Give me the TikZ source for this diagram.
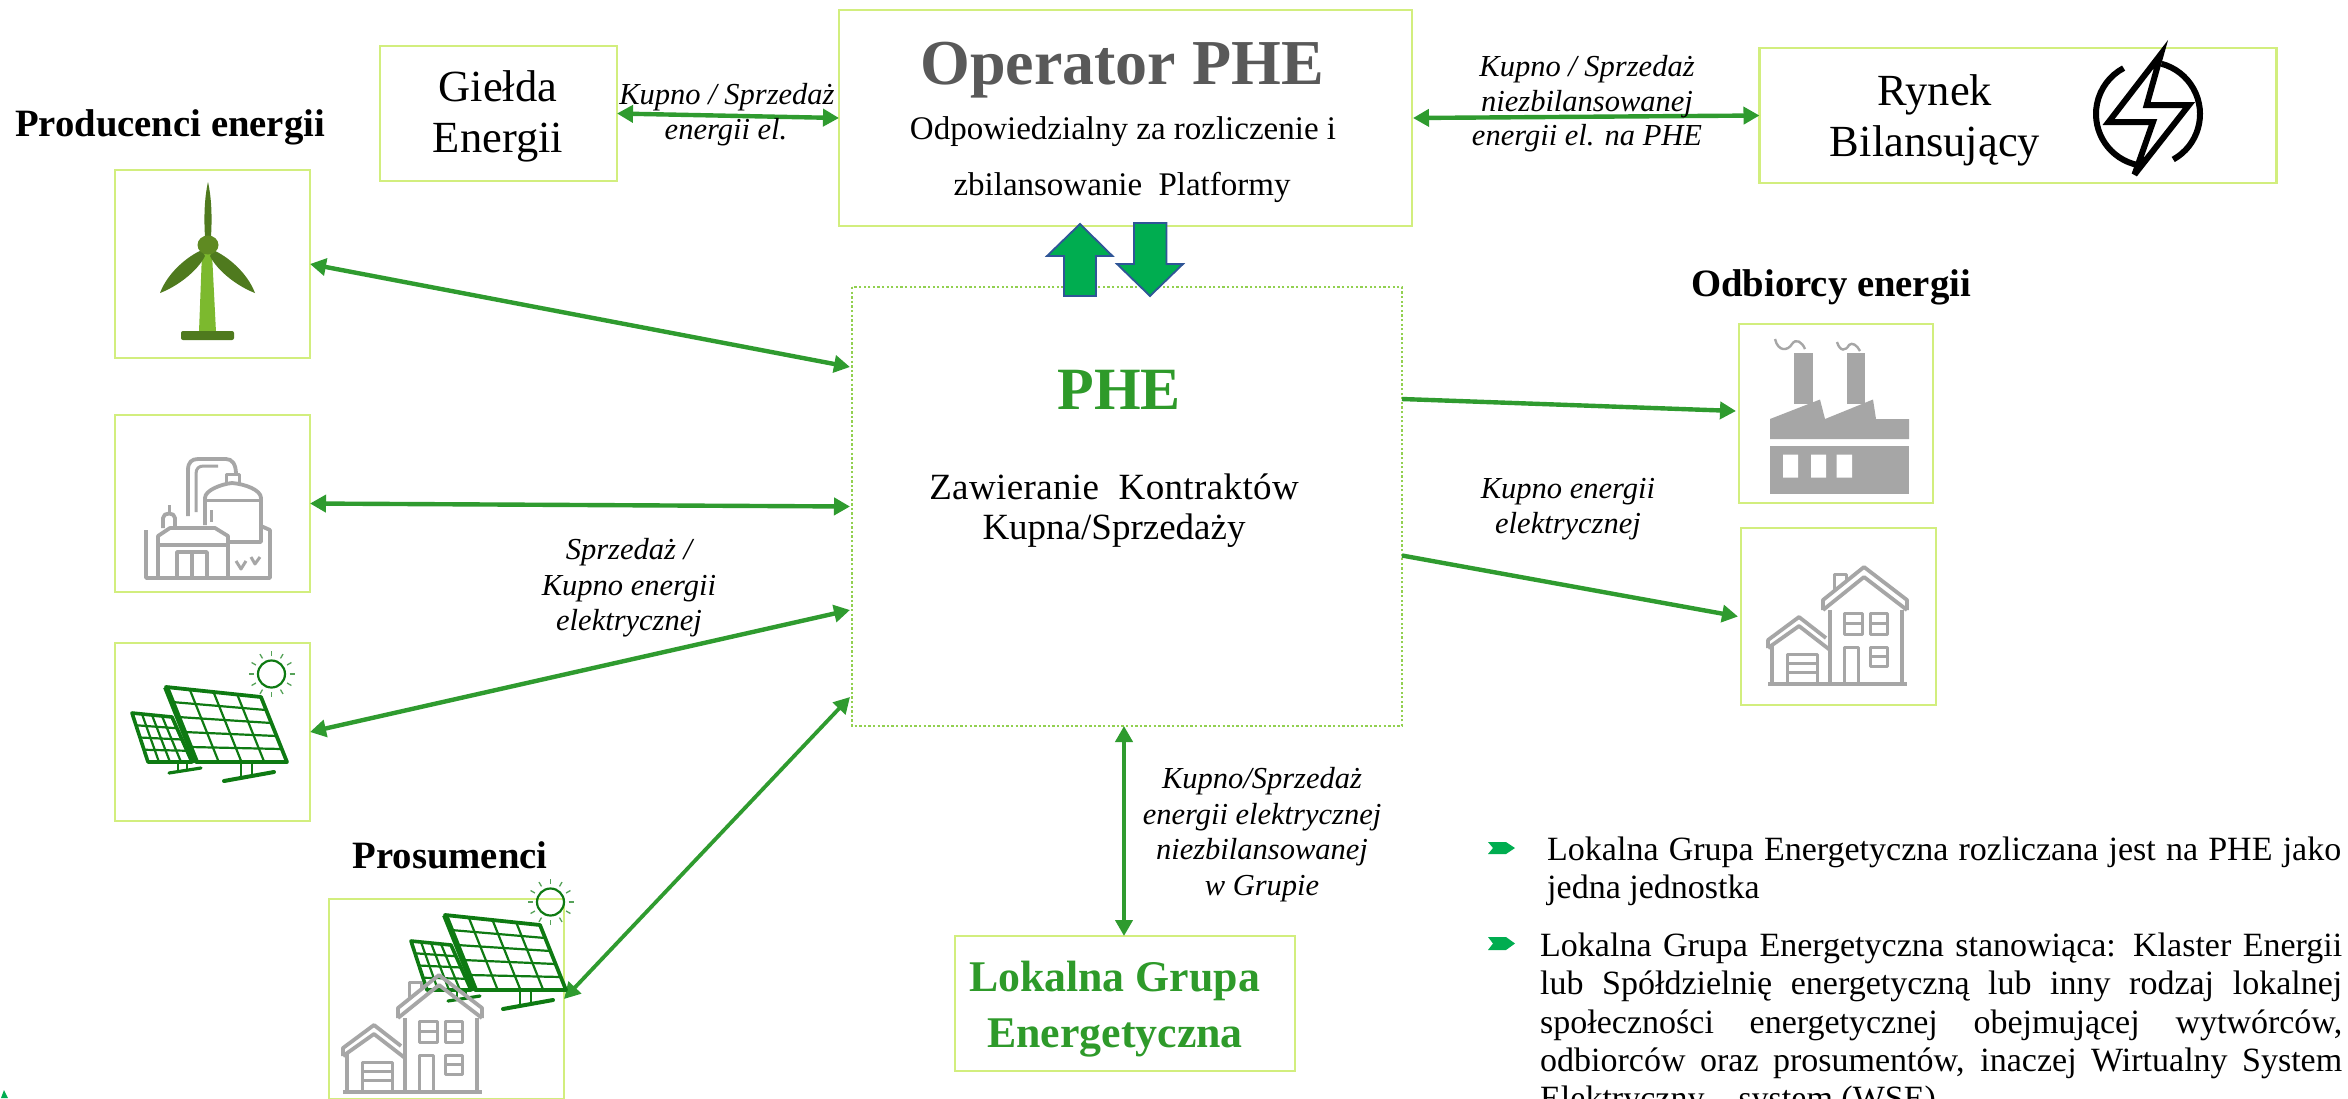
\documentclass[tikz,border=0pt]{standalone}
\usepackage{fontspec}
\setmainfont{Liberation Serif}
\definecolor{boxline}{HTML}{D2EE7E}
\definecolor{dotline}{HTML}{92D050}
\definecolor{flow}{HTML}{2F9B2F}
\definecolor{phegreen}{HTML}{2E9A2A}
\definecolor{opgray}{HTML}{595959}
\definecolor{icongray}{HTML}{A6A6A6}
\definecolor{sgreen}{HTML}{0E7A12}
\definecolor{bluebd}{HTML}{2F5597}
\definecolor{fillgreen}{HTML}{00AD50}
\definecolor{tdark}{HTML}{4F7A1E}
\definecolor{tlight}{HTML}{7CB92E}
\definecolor{thub}{HTML}{5F8A22}
\usetikzlibrary{arrows.meta,calc}
\newcommand{\fs}[1]{\fontsize{#1}{#1}\selectfont}
\newcommand{\jl}[1]{\hbox to 802pt{#1}}
\tikzset{
  x=1pt,y=-1pt,
  lbox/.style={draw=boxline,line width=2.8pt,fill=white,inner sep=0pt,outer sep=0pt},
  flowdbl/.style={draw=flow,line width=4.4pt,{Triangle[length=16pt,width=17pt]}-{Triangle[length=16pt,width=17pt]}},
  flowone/.style={draw=flow,line width=4.4pt,-{Triangle[length=16pt,width=17pt]}},
  lab/.style={inner sep=0pt,anchor=base,align=center,font=\fs{30.5}\itshape},
  ttl/.style={inner sep=0pt,anchor=base,font=\fs{38.7}\bfseries},
  txt/.style={inner sep=0pt,anchor=base,font=\fs{44.5}},
  sub/.style={inner sep=0pt,anchor=base,font=\fs{33}},
  para/.style={inner sep=0pt,anchor=base west,font=\fs{34}},
  lgetxt/.style={inner sep=0pt,anchor=base,font=\fs{43.8}\bfseries,text=phegreen},
  thick arrow/.style={draw=bluebd,line width=1.8pt,fill=fillgreen,line join=miter},
  gl/.style={draw=icongray,line width=3.8pt,line join=round,fill=none},
  gl2/.style={draw=icongray,line width=3pt,line join=round,fill=none},
  sl/.style={draw=sgreen,line width=2.2pt},
  solarpic/.pic={
    \draw[sgreen,line width=3.6pt,line join=round,fill=white] (132,713)--(172,717)--(192,762)--(148,762)--cycle;
    \foreach \t in {.25,.5,.75}{\draw[sl] ($(132,713)!\t!(148,762)$)--($(172,717)!\t!(192,762)$);
       \draw[sl] ($(132,713)!\t!(172,717)$)--($(148,762)!\t!(192,762)$);}
    \draw[sgreen,line width=3.8pt,line join=round,fill=white] (166,687)--(261,697)--(287,762)--(196,762)--cycle;
    \draw[sgreen,line width=6pt] (166,687)--(196,762);
    \foreach \t in {.2,.4,.6,.8}{\draw[sl] ($(166,687)!\t!(196,762)$)--($(261,697)!\t!(287,762)$);}
    \foreach \t in {.25,.5,.75}{\draw[sl] ($(166,687)!\t!(261,697)$)--($(196,762)!\t!(287,762)$);}
    \draw[sgreen,line width=2.2pt] (241,763)--(241,777) (252,763)--(252,775);
    \draw[sgreen,line width=4pt,line cap=round] (224,781)--(274,772);
    \draw[sgreen,line width=2pt] (178,763)--(178,771) (187,763)--(187,770);
    \draw[sgreen,line width=3.2pt,line cap=round] (169,773)--(201,768);
    \draw[sgreen,line width=2.2pt] (271.5,674) circle[radius=13.5];
    \foreach \a in {0,30,...,330}{\draw[sgreen!70,line width=1.3pt] (271.5,674)+(\a:18)--+(\a:23);}
  },
  housepic/.pic={
    \draw[gl] (1772,646)--(1772,684) (1830,684)--(1830,610) (1902,684)--(1902,610);
    \draw[gl] (1768,648)--(1768,640)--(1799,617)--(1826,638) (1768,648)--(1799,626)--(1830,650);
    \draw[gl] (1823,610)--(1823,600)--(1864,567)--(1907,600)--(1907,610) (1823,610)--(1864,577)--(1907,610);
    \draw[gl2] (1834,590)--(1834,574)--(1846,574)--(1846,580);
    \draw[gl2] (1844,613) rectangle (1862,634) (1844,623.5)--(1862,623.5);
    \draw[gl2] (1870,613) rectangle (1887,634) (1870,623.5)--(1887,623.5);
    \draw[gl2] (1870,647) rectangle (1887,666) (1870,656.5)--(1887,656.5);
    \draw[gl2] (1844,682)--(1844,647)--(1858,647)--(1858,682);
    \draw[gl2] (1787,682)--(1787,654)--(1817,654)--(1817,682) (1787,663)--(1817,663) (1787,672)--(1817,672);
    \draw[gl] (1768,684)--(1907,684);
  }
}
\begin{document}
\begin{tikzpicture}
\useasboundingbox (0,0) rectangle (2348,1098);
\clip (0,0) rectangle (2348,1098);
\fill[white] (0,0) rectangle (2348,1098);

% boxes
\node[lbox,draw,minimum width=237pt,minimum height=135pt] (gielda) at (498.5,113.5) {};
\node[lbox,minimum width=573pt,minimum height=216pt] (oper) at (1125.5,118) {};
\node[lbox,minimum width=517pt,minimum height=135pt] (rynek) at (2018,115.5) {};
\node[inner sep=0pt,outer sep=0pt,minimum width=550pt,minimum height=439pt] (phe) at (1127,506.5) {};
\draw[dotline,line width=2.5pt,dash pattern=on 2.3pt off 2.3pt] (phe.north west) rectangle (phe.south east);
\node[lbox,minimum width=195pt,minimum height=188pt] (wind) at (212.5,264) {};
\node[lbox,minimum width=195pt,minimum height=177pt] (bio) at (212.5,503.5) {};
\node[lbox,minimum width=195pt,minimum height=178pt] (solar) at (212.5,732) {};
\node[lbox,minimum width=235pt,minimum height=200pt] (pros) at (446.5,999) {};
\node[lbox,minimum width=194pt,minimum height=179pt] (fact) at (1836,413.5) {};
\node[lbox,minimum width=195pt,minimum height=177pt] (dom) at (1838.5,616.5) {};
\node[lbox,minimum width=340pt,minimum height=135pt] (lge) at (1125,1003.5) {};

% connectors
\draw[flowdbl] (gielda.east) -- (oper.west);
\draw[flowdbl] ([xshift=1pt]oper.east) -- (rynek.west);
\draw[flowdbl] (wind.east) -- ([shift={(-2pt,139.5pt)}]phe.west);
\draw[flowdbl] (bio.east) -- ([xshift=-2pt]phe.west);
\draw[flowdbl] (solar.east) -- ([shift={(-2pt,-103.5pt)}]phe.west);
\draw[flowdbl,line width=3.8pt] (pros.east) -- ([shift={(-2pt,-190.5pt)}]phe.west);
\draw[flowone] ([yshift=107.5pt]phe.east) -- ([xshift=-3pt,yshift=2.5pt]fact.west);
\draw[flowone] ([yshift=-49pt]phe.east) -- ([xshift=-3pt]dom.west);
\draw[flowdbl,line width=4pt] ([xshift=-3pt]phe.south) -- ([xshift=-1pt]lge.north);

% block arrows
\draw[thick arrow] (1080,224)--(1112.5,256)--(1096,256)--(1096,296)--(1064,296)--(1064,256)--(1047,256)--cycle;
\draw[thick arrow] (1134,223)--(1166.5,223)--(1166.5,264)--(1183,264)--(1150,296)--(1117,264)--(1134,264)--cycle;

% wind
\fill[tlight] (202,253)--(212,253)--(216,332)--(199,332)--cycle;
\fill[tdark,rounded corners=2pt] (181,331) rectangle (234,340);
\fill[tdark] (208,182) .. controls (204,200) and (204,220) .. (205,237) -- (211,237) .. controls (212,220) and (212,200) .. (208,182) -- cycle;
\fill[tdark] (160,293) .. controls (168,272) and (188,256) .. (202,250) -- (205,256) .. controls (197,272) and (176,287) .. (160,293) -- cycle;
\fill[tdark] (255,293) .. controls (247,272) and (227,256) .. (213,250) -- (210,256) .. controls (218,272) and (239,287) .. (255,293) -- cycle;
\fill[thub] (208,245) ellipse[x radius=10.5,y radius=9.5];

% biogas
\draw[gl] (188,516)--(188,470) .. controls (188,462) and (192,459) .. (198,459) -- (226,459) .. controls (232,459) and (236,464) .. (236,474);
\draw[gl2] (196,512)--(196,474) .. controls (196,468) and (199,466) .. (204,466) -- (218,466);
\draw[gl] (205,525)--(205,498) .. controls (205,490) and (222,484) .. (232,483) .. controls (245,484) and (261,490) .. (261,498) -- (261,542) -- (228,542);
\draw[gl2] (226,474) rectangle (239,483);
\draw[gl2] (211,510)--(211,522) (261,500)--(207,500);
\draw[gl] (146,530)--(146,578)--(270,578)--(270,530)--(261,526);
\draw[gl] (158,578)--(158,536)--(170,528)--(215,528)--(228,536)--(228,578);
\draw[gl] (158,545)--(228,545);
\draw[gl] (163,528)--(163,518) .. controls (163,512) and (175,512) .. (175,518) -- (175,528);
\draw[gl2] (169,513)--(169,505);
\draw[gl] (177,576)--(177,552)--(207,552)--(207,576) (192,552)--(192,576);
\draw[gl2] (236,561)--(241,569)--(246,561) (251,557)--(255,564)--(260,557);

% solar panels
\pic at (0,0) {solarpic};
\pic at (279,228) {solarpic};

% houses
\pic at (0,0) {housepic};
\pic at (-1425,408) {housepic};

% factory
\fill[icongray] (1794,353) rectangle (1813,404);
\fill[icongray] (1847,353) rectangle (1865,404);
\fill[icongray] (1770,419)--(1820,399.5)--(1825,419)--(1873,399.5)--(1876,419)--(1909,419)--(1909,439)--(1770,439)--cycle;
\fill[icongray] (1770,446) rectangle (1909,493.5);
\fill[white] (1783,454.5) rectangle (1798,477.5) (1811,454.5) rectangle (1826,477.5) (1836.5,454.5) rectangle (1852,477.5);
\draw[icongray,line width=2.4pt] (1775,339) .. controls (1778,352) and (1788,351) .. (1792,344) .. controls (1796,338) and (1802,342) .. (1805,349);
\draw[icongray,line width=2.4pt] (1837,342) .. controls (1840,352) and (1846,351) .. (1849,345) .. controls (1852,342) and (1857,345) .. (1860,351);

% bolt
\draw[black,line width=6pt] (2148,114)+(101:52) arc[start angle=101,end angle=242,radius=52];
\draw[black,line width=6pt] (2148,114)+(61:52) arc[start angle=61,end angle=-75,radius=52];
\draw[black,line width=6pt,line join=miter,miter limit=6] (2161,54)--(2108.6,122)--(2153,122)--(2134.5,174.5)--(2189,105)--(2146.7,105)--cycle;

% text
\node[txt] (t1) at (498,101) {Giełda};
\node[txt] (t2) at (498,152) {Energii};
\node[lab] (l1) at (727,104) {Kupno / Sprzedaż};
\node[lab] (l2) at (726,139) {energii el.};
\node[inner sep=0pt,anchor=base,font=\fs{64}\bfseries,text=opgray] (t3) at (1122,84) {Operator PHE};
\node[sub] (t4) at (1123,139) {Odpowiedzialny za rozliczenie i};
\node[sub] (t5) at (1122,195) {zbilansowanie\hspace{8pt} Platformy};
\node[lab] (l3) at (1587,76) {Kupno / Sprzedaż};
\node[lab] (l4) at (1587,111) {niezbilansowanej};
\node[lab] (l5) at (1587,145) {energii el. na PHE};
\node[txt] (t6) at (1935,105) {Rynek};
\node[txt] (t7) at (1935,156) {Bilansujący};
\node[ttl] (t8) at (170,136) {Producenci energii};
\node[ttl] (t9) at (1831,296) {Odbiorcy energii};
\node[ttl] (t10) at (450,868) {Prosumenci};
\node[inner sep=0pt,anchor=base,font=\fs{60}\bfseries,text=phegreen] (t11) at (1119,409) {PHE};
\node[inner sep=0pt,anchor=base,font=\fs{37}] (t12) at (1114,499) {\addfontfeature{LetterSpace=1}Zawieranie\hspace{10pt} Kontraktów};
\node[inner sep=0pt,anchor=base,font=\fs{37}] (t13) at (1114,539) {Kupna/Sprzedaży};
\node[lab] (l6) at (629,559.5) {Sprzedaż /};
\node[lab] (l7) at (629,595) {Kupno energii};
\node[lab] (l8) at (629,630) {elektrycznej};
\node[lab] (l9) at (1568,498) {Kupno energii};
\node[lab] (l10) at (1568,533.5) {elektrycznej};
\node[lab] (l11) at (1262,788) {Kupno/Sprzedaż};
\node[lab] (l12) at (1262,824) {energii elektrycznej};
\node[lab] (l13) at (1262,859) {niezbilansowanej};
\node[lab] (l14) at (1262,895) {w Grupie};
\node[lgetxt] (t14) at (1114.5,991) {Lokalna Grupa};
\node[lgetxt] (t15) at (1115,1047) {Energetyczna};

% bullets
\fill[fillgreen] (1488,842)--(1506,842)--(1515,848)--(1506,854)--(1488,854)--(1493,848)--cycle;
\fill[fillgreen] (1488,937)--(1506,937)--(1515,943.5)--(1506,950)--(1488,950)--(1493,943.5)--cycle;
\fill[fillgreen] (1,1098)--(4,1090)--(8,1098)--cycle;

\node[para] (p1) at (1547,860) {\hbox to 794pt{Lokalna Grupa Energetyczna rozliczana jest na PHE jako}};
\node[para] (p2) at (1547,898) {jedna jednostka};
\node[para] (p3) at (1540,956) {\jl{Lokalna Grupa Energetyczna stanowiąca: Klaster Energii}};
\node[para] (p4) at (1540,994) {\jl{lub Spółdzielnię energetyczną lub inny rodzaj lokalnej}};
\node[para] (p5) at (1540,1033) {\jl{społeczności energetycznej obejmującej wytwórców,}};
\node[para] (p6) at (1540,1071) {\jl{odbiorców oraz prosumentów, inaczej Wirtualny System}};
\node[para] (p7) at (1540,1109) {Elektryczny – system (WSE)};
\end{tikzpicture}
\end{document}
